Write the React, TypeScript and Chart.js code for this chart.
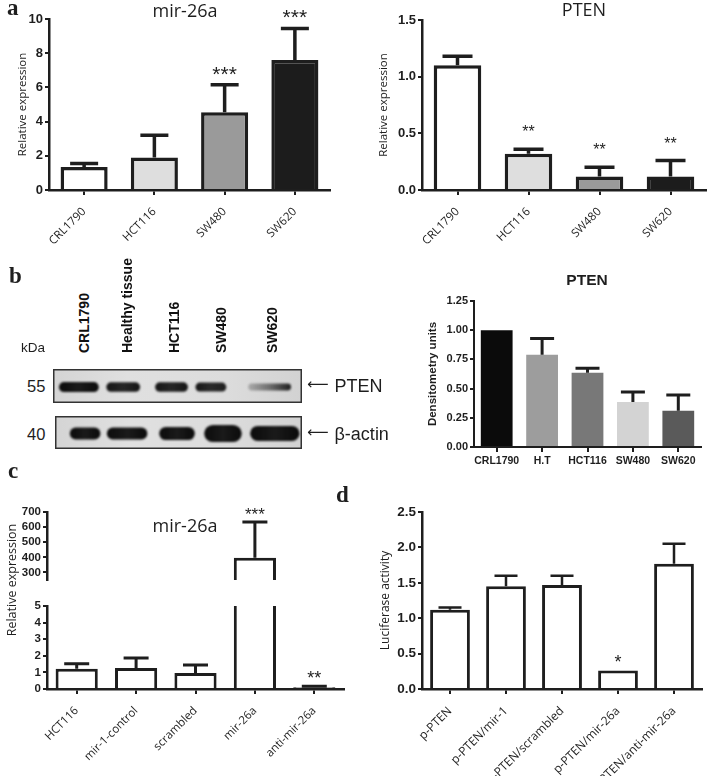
import React, { useEffect, useRef } from 'react';
import { Chart, registerables } from 'chart.js';
Chart.register(...registerables);

// ---------------- data ----------------
// panel a
const aCells = ['CRL1790', 'HCT116', 'SW480', 'SW620'];
const aMirMean = [1.35, 1.9, 4.55, 7.6];
const aMirSD = [0.2, 1.3, 1.6, 1.85];
const aMirStars = ['', '', '***', '***'];
const aMirTicks = [0, 2, 4, 6, 8, 10];
const aPtenMean = [1.1, 0.32, 0.12, 0.12];
const aPtenSD = [0.08, 0.04, 0.08, 0.14];
const aPtenStars = ['', '**', '**', '**'];
const aPtenTicks = [0, 0.5, 1.0, 1.5];
const aFills = ['#ffffff', '#dedede', '#9a9a9a', '#1c1c1c'];

// panel b
const bLanes = ['CRL1790', 'Healthy tissue', 'HCT116', 'SW480', 'SW620'];
const bCells = ['CRL1790', 'H.T', 'HCT116', 'SW480', 'SW620'];
const bMean = [1.0, 0.79, 0.635, 0.385, 0.31];
const bSD = [0, 0.14, 0.04, 0.085, 0.135];
const bTicks = [0, 0.25, 0.5, 0.75, 1.0, 1.25];
const bFills = ['#0b0b0b', '#9d9d9d', '#787878', '#d3d3d3', '#5a5a5a'];
// western blot bands (lane units 0..5, relative heights, ink left/right)
const ptenBandX = [0.52, 1.41, 2.38, 3.17, 4.35];
const ptenBandW = [0.8, 0.68, 0.66, 0.62, 0.86];
const ptenBandH = [0.3, 0.28, 0.28, 0.26, 0.2];
const ptenInkL = [1, 0.95, 0.95, 0.95, 0.22];
const ptenInkR = [1, 0.95, 0.95, 0.9, 0.9];
const actinBandX = [0.61, 1.46, 2.47, 3.4, 4.45];
const actinBandW = [0.62, 0.82, 0.72, 0.76, 1.0];
const actinBandH = [0.36, 0.36, 0.4, 0.52, 0.46];
const actinInkL = [1, 1, 1, 1, 1];
const actinInkR = [1, 1, 1, 1, 1];

// panel c
const cGroups = ['HCT116', 'mir-1-control', 'scrambled', 'mir-26a', 'anti-mir-26a'];
const cMean = [1.22, 1.27, 0.97, 398, 0.1];
const cSD = [0.3, 0.6, 0.47, 235, 0.07];
const cStars = ['', '', '', '***', '**'];
const cTicksUpper = [300, 400, 500, 600, 700];
const cTicksLower = [0, 1, 2, 3, 4, 5];

// panel d
const dGroups = ['p-PTEN', 'p-PTEN/mir-1', 'p-PTEN/scrambled', 'p-PTEN/mir-26a', 'p-PTEN/anti-mir-26a'];
const dMean = [1.12, 1.45, 1.47, 0.26, 1.77];
const dSD = [0.03, 0.15, 0.13, 0, 0.28];
const dStars = ['', '', '', '*', ''];
const dTicks = [0, 0.5, 1.0, 1.5, 2.0, 2.5];

// ---------------- styling ----------------
const INK = '#1e1e1e';
const SANS = '"Liberation Sans", Arial, sans-serif';
const SOFT = '"Open Sans", "Liberation Sans", sans-serif';
const SERIF = '"Liberation Serif", "Times New Roman", serif';
const FAM: Record<string, string> = { sans: SANS, soft: SOFT, serif: SERIF };
const ASC: Record<string, number> = { sans: 0.8465, soft: 0.888, serif: 0.8375 };

type Rect = { l: number; t: number; r: number; b: number };

interface BarSpec {
  box: Rect;
  area: Rect;
  labels: string[];
  values: number[];
  sd: number[];
  stars?: string[];
  fills: string[];
  borderWidth: number;
  barPct: number;
  min: number;
  max: number;
  ticks: number[];
  decimals: number;
  tickSize: number;
  axisWidth: number;
  yTitle?: string;
  yTitleX?: number;
  yTitleFont?: { family: string; size: number; weight?: string };
  showX: boolean;
  rotate: number;
  xFont?: { family: string; size: number; weight?: string };
  xPad?: number;
  cap: number;
  errWidth: number;
  starSize?: number;
  starGap?: number;
  clip?: any;
  clipErrTop?: boolean;
  clipErrBottom?: boolean;
}

function makeBarConfig(s: BarSpec) {
  const { box, area } = s;
  const lh = s.yTitleFont ? s.yTitleFont.size * 1.2 : 0;
  const titlePad = s.yTitleX != null ? s.yTitleX - box.l - lh / 2 : 0;
  const errPlugin = {
    id: 'errorBars',
    afterDatasetsDraw(chart: any) {
      const ctx = chart.ctx;
      const a = chart.chartArea;
      const ys = chart.scales.y;
      const meta = chart.getDatasetMeta(0);
      ctx.save();
      const top = s.clipErrTop ? a.top : 0;
      const bottom = s.clipErrBottom ? a.bottom : chart.height;
      ctx.beginPath();
      ctx.rect(0, top, chart.width, bottom - top);
      ctx.clip();
      ctx.strokeStyle = INK;
      ctx.lineWidth = s.errWidth;
      ctx.lineCap = 'butt';
      meta.data.forEach((el: any, i: number) => {
        const e = s.sd[i];
        if (!e) return;
        const y0 = ys.getPixelForValue(s.values[i]);
        const y1 = ys.getPixelForValue(s.values[i] + e);
        ctx.beginPath();
        ctx.moveTo(el.x, y0);
        ctx.lineTo(el.x, y1);
        ctx.moveTo(el.x - s.cap / 2, y1);
        ctx.lineTo(el.x + s.cap / 2, y1);
        ctx.stroke();
      });
      ctx.restore();
      if (s.stars) {
        const size = s.starSize || 16;
        ctx.save();
        ctx.fillStyle = INK;
        ctx.font = `${size}px ${SANS}`;
        ctx.textAlign = 'center';
        ctx.textBaseline = 'alphabetic';
        meta.data.forEach((el: any, i: number) => {
          const st = s.stars![i];
          if (!st) return;
          const t = ys.getPixelForValue(s.values[i] + (s.sd[i] || 0));
          if (t < a.top - 40 || t > a.bottom) return;
          ctx.fillText(st, el.x, t - (s.starGap || 14) + 0.57 * size);
        });
        ctx.restore();
      }
    },
  };
  return {
    type: 'bar',
    data: {
      labels: s.labels,
      datasets: [
        {
          data: s.values,
          backgroundColor: s.fills,
          borderColor: INK,
          borderWidth: s.borderWidth,
          borderSkipped: 'start',
          categoryPercentage: 1,
          barPercentage: s.barPct,
          clip: s.clip === undefined ? false : s.clip,
        },
      ],
    },
    options: {
      animation: false,
      responsive: false,
      maintainAspectRatio: false,
      events: [],
      layout: {
        padding: {
          left: 0,
          top: area.t - box.t,
          right: box.r - area.r,
          bottom: s.showX ? 0 : box.b - area.b,
        },
      },
      plugins: { legend: { display: false }, tooltip: { enabled: false }, title: { display: false } },
      scales: {
        x: {
          display: s.showX,
          offset: true,
          grid: {
            display: true,
            drawOnChartArea: false,
            drawTicks: true,
            tickLength: 5,
            color: INK,
            lineWidth: 2,
            offset: false,
          },
          border: { display: true, color: INK, width: s.axisWidth },
          ticks: {
            color: INK,
            font: s.xFont,
            maxRotation: s.rotate,
            minRotation: s.rotate,
            padding: s.xPad ?? 4,
            autoSkip: false,
          },
          afterFit: (sc: any) => {
            sc.height = box.b - area.b;
          },
        },
        y: {
          min: s.min,
          max: s.max,
          afterBuildTicks: (sc: any) => {
            sc.ticks = s.ticks.map((v) => ({ value: v }));
          },
          ticks: {
            color: INK,
            font: { family: SANS, weight: 'bold', size: s.tickSize },
            padding: 2,
            autoSkip: false,
            callback: (v: any) => Number(v).toFixed(s.decimals),
          },
          grid: { drawOnChartArea: false, drawTicks: true, tickLength: 4, color: INK, lineWidth: 2 },
          border: { display: true, color: INK, width: s.axisWidth },
          title: s.yTitle
            ? {
                display: true,
                text: s.yTitle,
                color: INK,
                font: s.yTitleFont,
                padding: { top: titlePad, bottom: 0 },
              }
            : { display: false },
          afterFit: (sc: any) => {
            sc.width = area.l - box.l;
          },
        },
      },
    },
    plugins: [errPlugin],
  };
}

interface BlotSpec {
  xs: number[];
  ws: number[];
  hs: number[];
  inkL: number[];
  inkR: number[];
}

function makeBlotConfig(s: BlotSpec) {
  const bandPlugin = {
    id: 'blotBands',
    beforeDatasetsDraw(chart: any) {
      const ctx = chart.ctx;
      const W = chart.width;
      const H = chart.height;
      const xs = chart.scales.x;
      const ys = chart.scales.y;
      ctx.save();
      const bg = ctx.createLinearGradient(0, 0, W, 0);
      bg.addColorStop(0, '#d4d4d4');
      bg.addColorStop(0.3, '#e0e0e0');
      bg.addColorStop(0.7, '#dcdcdc');
      bg.addColorStop(1, '#d2d2d2');
      ctx.fillStyle = bg;
      ctx.fillRect(0, 0, W, H);
      ctx.filter = 'blur(1.3px)';
      s.xs.forEach((x, i) => {
        const cx = xs.getPixelForValue(x);
        const cy = ys.getPixelForValue(0.47);
        const w = xs.getPixelForValue(x + s.ws[i] / 2) - xs.getPixelForValue(x - s.ws[i] / 2);
        const h = Math.abs(ys.getPixelForValue(s.hs[i]) - ys.getPixelForValue(0));
        const g = ctx.createLinearGradient(cx - w / 2, 0, cx + w / 2, 0);
        g.addColorStop(0, `rgba(10,10,10,${s.inkL[i]})`);
        g.addColorStop(0.5, `rgba(10,10,10,${((s.inkL[i] + s.inkR[i]) / 2) * 0.92})`);
        g.addColorStop(1, `rgba(10,10,10,${s.inkR[i]})`);
        ctx.fillStyle = g;
        ctx.beginPath();
        ctx.roundRect(cx - w / 2, cy - h / 2, w, h, h / 2);
        ctx.fill();
      });
      ctx.restore();
    },
    afterDraw(chart: any) {
      const ctx = chart.ctx;
      ctx.save();
      ctx.strokeStyle = '#333333';
      ctx.lineWidth = 1.5;
      ctx.strokeRect(0.75, 0.75, chart.width - 1.5, chart.height - 1.5);
      ctx.restore();
    },
  };
  return {
    type: 'scatter',
    data: { datasets: [{ data: s.xs.map((x) => ({ x, y: 0.47 })), pointRadius: 0 }] },
    options: {
      animation: false,
      responsive: false,
      events: [],
      layout: { padding: 0 },
      plugins: { legend: { display: false }, tooltip: { enabled: false } },
      scales: {
        x: { type: 'linear', min: 0, max: 5, display: false },
        y: { type: 'linear', min: 0, max: 1, display: false },
      },
    },
    plugins: [bandPlugin],
  };
}

function ChartBox({ rect, make }: { rect: Rect; make: () => any }) {
  const ref = useRef<HTMLCanvasElement>(null);
  useEffect(() => {
    const chart = new Chart(ref.current as HTMLCanvasElement, make());
    return () => chart.destroy();
  }, []);
  const w = rect.r - rect.l;
  const h = rect.b - rect.t;
  return (
    <canvas
      ref={ref}
      width={w}
      height={h}
      style={{ position: 'absolute', left: rect.l, top: rect.t, width: w, height: h }}
    />
  );
}

function Txt(props: {
  x: number;
  y: number;
  size: number;
  fam?: string;
  bold?: boolean;
  center?: boolean;
  children: React.ReactNode;
}) {
  const fam = props.fam || 'sans';
  const top = props.y - ASC[fam] * props.size;
  return (
    <div
      style={{
        position: 'absolute',
        left: props.x,
        top,
        fontSize: props.size,
        lineHeight: `${props.size}px`,
        fontFamily: FAM[fam],
        fontWeight: props.bold ? 700 : 400,
        color: INK,
        whiteSpace: 'nowrap',
        transform: props.center ? 'translateX(-50%)' : undefined,
      }}
    >
      {props.children}
    </div>
  );
}

// vertical lane label reading bottom-to-top, cap centre at cx, starting at y
function VLabel({ cx, y, size, text }: { cx: number; y: number; size: number; text: string }) {
  const capCenter = ASC.sans * size - (0.716 * size) / 2;
  return (
    <div
      style={{
        position: 'absolute',
        left: cx - capCenter,
        top: y,
        fontSize: size,
        lineHeight: `${size}px`,
        fontFamily: SANS,
        fontWeight: 700,
        color: '#111',
        whiteSpace: 'nowrap',
        transformOrigin: 'left top',
        transform: 'rotate(-90deg)',
      }}
    >
      {text}
    </div>
  );
}

function Arrow({ x, y, label }: { x: number; y: number; label: string }) {
  return (
    <div
      style={{
        position: 'absolute',
        left: x,
        top: y - ASC.sans * 18,
        fontSize: 18,
        lineHeight: '18px',
        fontFamily: SANS,
        color: INK,
        whiteSpace: 'nowrap',
      }}
    >
      <span style={{ fontFamily: '"DejaVu Sans", sans-serif', fontSize: 15, position: 'relative', top: -3 }}>⟵</span>
      <span style={{ marginLeft: 6 }}>{label}</span>
    </div>
  );
}

const TITLE_A = { family: SOFT, size: 11.5 };
const XFONT = { family: SOFT, size: 11.5 };

export default function App() {
  const laneCx = [84, 127, 174, 221, 272];
  const white5 = ['#ffffff', '#ffffff', '#ffffff', '#ffffff', '#ffffff'];
  return (
    <div
      style={{
        position: 'absolute',
        left: 0,
        top: 0,
        width: 708,
        height: 776,
        background: '#ffffff',
        overflow: 'hidden',
      }}
    >
      {/* panel a left */}
      <ChartBox
        rect={{ l: 0, t: 0, r: 345, b: 262 }}
        make={() =>
          makeBarConfig({
            box: { l: 0, t: 0, r: 345, b: 262 },
            area: { l: 49, t: 19, r: 330, b: 190 },
            labels: aCells,
            values: aMirMean,
            sd: aMirSD,
            stars: aMirStars,
            fills: aFills,
            borderWidth: 3.5,
            barPct: 0.67,
            min: 0,
            max: 10,
            ticks: aMirTicks,
            decimals: 0,
            tickSize: 13,
            axisWidth: 2.5,
            yTitle: 'Relative expression',
            yTitleX: 23,
            yTitleFont: TITLE_A,
            showX: true,
            rotate: 45,
            xFont: XFONT,
            xPad: 10,
            cap: 28,
            errWidth: 3.5,
            starSize: 21,
            starGap: 16,
          })
        }
      />
      {/* panel a right */}
      <ChartBox
        rect={{ l: 352, t: 0, r: 708, b: 262 }}
        make={() =>
          makeBarConfig({
            box: { l: 352, t: 0, r: 708, b: 262 },
            area: { l: 422, t: 20, r: 706, b: 190 },
            labels: aCells,
            values: aPtenMean,
            sd: aPtenSD,
            stars: aPtenStars,
            fills: aFills,
            borderWidth: 3.5,
            barPct: 0.67,
            min: 0,
            max: 1.5,
            ticks: aPtenTicks,
            decimals: 1,
            tickSize: 13,
            axisWidth: 2.5,
            yTitle: 'Relative expression',
            yTitleX: 384,
            yTitleFont: TITLE_A,
            showX: true,
            rotate: 45,
            xFont: XFONT,
            xPad: 10,
            cap: 30,
            errWidth: 3.5,
            starSize: 16,
            starGap: 21,
          })
        }
      />
      {/* panel b right */}
      <ChartBox
        rect={{ l: 360, t: 286, r: 708, b: 472 }}
        make={() =>
          makeBarConfig({
            box: { l: 360, t: 286, r: 708, b: 472 },
            area: { l: 474, t: 301, r: 701, b: 447 },
            labels: bCells,
            values: bMean,
            sd: bSD,
            fills: bFills,
            borderWidth: 0,
            barPct: 0.7,
            min: 0,
            max: 1.25,
            ticks: bTicks,
            decimals: 2,
            tickSize: 11,
            axisWidth: 2,
            yTitle: 'Densitometry units',
            yTitleX: 433,
            yTitleFont: { family: SANS, size: 11.5, weight: 'bold' },
            showX: true,
            rotate: 0,
            xFont: { family: SANS, size: 10.5, weight: 'bold' },
            xPad: 3,
            cap: 24,
            errWidth: 3,
          })
        }
      />
      {/* blot strips */}
      <ChartBox
        rect={{ l: 53, t: 369, r: 302, b: 403 }}
        make={() =>
          makeBlotConfig({ xs: ptenBandX, ws: ptenBandW, hs: ptenBandH, inkL: ptenInkL, inkR: ptenInkR })
        }
      />
      <ChartBox
        rect={{ l: 55, t: 416, r: 302, b: 449 }}
        make={() =>
          makeBlotConfig({ xs: actinBandX, ws: actinBandW, hs: actinBandH, inkL: actinInkL, inkR: actinInkR })
        }
      />
      {/* panel c lower (0-5) */}
      <ChartBox
        rect={{ l: 0, t: 592, r: 352, b: 776 }}
        make={() =>
          makeBarConfig({
            box: { l: 0, t: 592, r: 352, b: 776 },
            area: { l: 47, t: 606, r: 344, b: 689 },
            labels: cGroups,
            values: cMean,
            sd: cSD,
            stars: cStars,
            fills: white5,
            borderWidth: 3,
            barPct: 0.71,
            min: 0,
            max: 5,
            ticks: cTicksLower,
            decimals: 0,
            tickSize: 11.5,
            axisWidth: 2.5,
            showX: true,
            rotate: 45,
            xFont: XFONT,
            xPad: 10,
            cap: 25,
            errWidth: 3,
            starSize: 18,
            starGap: 12,
            clip: { left: false, right: false, top: 0, bottom: false },
            clipErrTop: true,
          })
        }
      />
      {/* panel c upper (250-700) */}
      <ChartBox
        rect={{ l: 0, t: 495, r: 352, b: 606 }}
        make={() =>
          makeBarConfig({
            box: { l: 0, t: 495, r: 352, b: 606 },
            area: { l: 47, t: 512, r: 344, b: 593 },
            labels: cGroups,
            values: cMean,
            sd: cSD,
            stars: cStars,
            fills: white5,
            borderWidth: 3,
            barPct: 0.71,
            min: 250,
            max: 700,
            ticks: cTicksUpper,
            decimals: 0,
            tickSize: 11.5,
            axisWidth: 2.5,
            showX: false,
            rotate: 45,
            cap: 25,
            errWidth: 3,
            starSize: 17,
            starGap: 12,
            clip: { left: false, right: false, top: false, bottom: 0 },
            clipErrBottom: true,
          })
        }
      />
      {/* panel d */}
      <ChartBox
        rect={{ l: 354, t: 495, r: 708, b: 776 }}
        make={() =>
          makeBarConfig({
            box: { l: 354, t: 495, r: 708, b: 776 },
            area: { l: 422, t: 512, r: 702, b: 689 },
            labels: dGroups,
            values: dMean,
            sd: dSD,
            stars: dStars,
            fills: white5,
            borderWidth: 3,
            barPct: 0.71,
            min: 0,
            max: 2.5,
            ticks: dTicks,
            decimals: 1,
            tickSize: 13.5,
            axisWidth: 2.5,
            yTitle: 'Luciferase activity',
            yTitleX: 386,
            yTitleFont: { family: SOFT, size: 12 },
            showX: true,
            rotate: 45,
            xFont: { family: SOFT, size: 12 },
            xPad: 10,
            cap: 23,
            errWidth: 2.5,
            starSize: 18,
            starGap: 13,
          })
        }
      />

      {/* panel letters and titles */}
      <Txt x={7} y={15} size={23} fam="serif" bold>a</Txt>
      <Txt x={9} y={283} size={23} fam="serif" bold>b</Txt>
      <Txt x={8} y={478} size={23} fam="serif" bold>c</Txt>
      <Txt x={336} y={502} size={23} fam="serif" bold>d</Txt>
      <Txt x={185} y={17} size={18} fam="soft" center>mir-26a</Txt>
      <Txt x={584} y={16} size={18} fam="soft" center>PTEN</Txt>
      <Txt x={587} y={285} size={15.5} bold center>PTEN</Txt>
      <Txt x={185} y={532} size={18} fam="soft" center>mir-26a</Txt>
      <div
        style={{
          position: 'absolute',
          left: 12,
          top: 580,
          fontSize: 12.5,
          lineHeight: '12.5px',
          fontFamily: SOFT,
          color: INK,
          whiteSpace: 'nowrap',
          transform: 'translate(-50%, -50%) rotate(-90deg)',
        }}
      >
        Relative expression
      </div>

      {/* blot annotations */}
      {bLanes.map((t, i) => (
        <VLabel key={t} cx={laneCx[i]} y={353} size={14} text={t} />
      ))}
      <Txt x={21} y={352} size={13.5}>kDa</Txt>
      <Txt x={27} y={392} size={16.5}>55</Txt>
      <Txt x={27} y={440} size={16.5}>40</Txt>
      <Arrow x={307} y={392} label="PTEN" />
      <Arrow x={307} y={440} label="β-actin" />
    </div>
  );
}
